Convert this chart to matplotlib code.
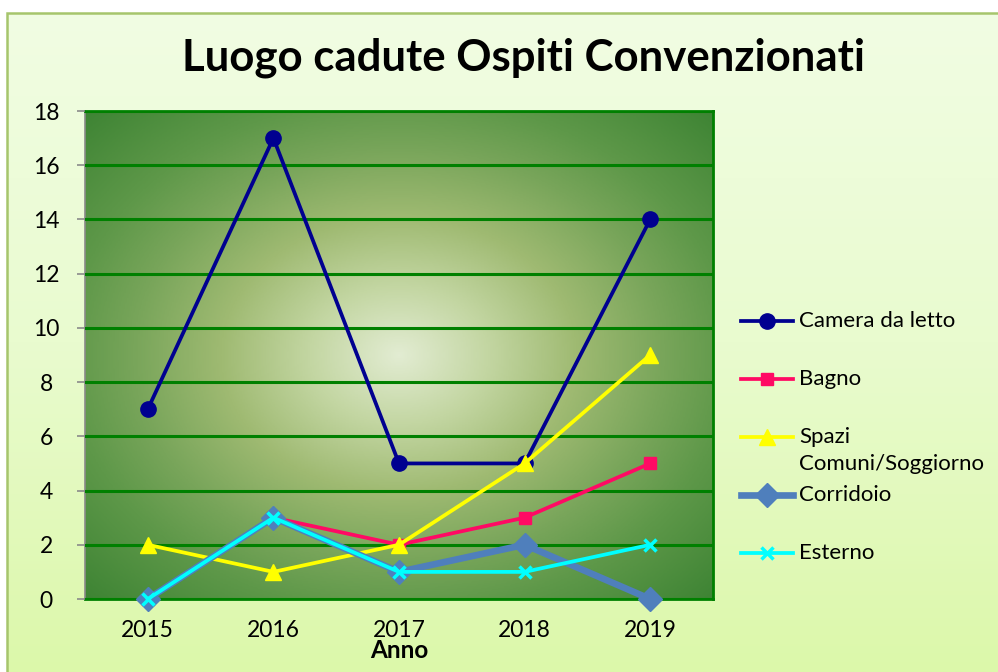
import numpy as np
import matplotlib.pyplot as plt
from matplotlib.colors import LinearSegmentedColormap
from matplotlib.patches import Rectangle
from matplotlib.lines import Line2D

plt.rcParams['font.family'] = ['Lato', 'DejaVu Sans']

# data
anni = ['2015', '2016', '2017', '2018', '2019']
camera = [7, 17, 5, 5, 14]
bagno = [0, 3, 2, 3, 5]
spazi = [2, 1, 2, 5, 9]
corridoio = [0, 3, 1, 2, 0]
esterno = [0, 3, 1, 1, 2]

serie = [
    ('Camera da letto', camera, '#000090', 'o', 11, 3, 2.7),
    ('Bagno', bagno, '#ff0a64', 's', 9, 3, 2.7),
    ('Spazi\nComuni/Soggiorno', spazi, '#ffff00', '^', 11, 3, 2.7),
    ('Corridoio', corridoio, '#4f7fbc', 'D', 12, 4, 4.8),
    ('Esterno', esterno, '#00ffff', 'x', 9, 5, 2.7),
]

W, H = 998, 672
fig = plt.figure(figsize=(W / 100, H / 100), dpi=100)
fig.patch.set_facecolor('white')

# chart background (light green vertical gradient)
bg = fig.add_axes([7 / W, 0, 1 - 7 / W, 1 - 13 / H], zorder=-10)
bg_cmap = LinearSegmentedColormap.from_list('bg', ['#f1fde3', '#e9fbcf', '#dcf8aa'])
grad = np.linspace(0, 1, 256).reshape(-1, 1)
bg.imshow(grad, aspect='auto', cmap=bg_cmap, extent=[0, 1, 0, 1], origin='upper')
bg.set_axis_off()
fig.patches.append(Rectangle((7 / W, -0.01), 1, 1 - 13 / H + 0.01, transform=fig.transFigure,
                             fill=False, edgecolor='#a6c56c', linewidth=1.8, zorder=-5))

ax = fig.add_axes([85 / W, 1 - 599 / H, (713 - 85) / W, (599 - 111) / H])

# plot-area gradient from the centre
nx, ny = 400, 300
u = np.linspace(-1, 1, nx)[None, :]
v = np.linspace(-1, 1, ny)[:, None]
t = np.sqrt(u ** 2 + v ** 2) / np.sqrt(2)
pa_cmap = LinearSegmentedColormap.from_list(
    'pa', [(0, '#e2ecd2'), (0.2, '#c3d6a2'), (0.4, '#9fba72'), (0.6, '#78a55a'),
           (0.75, '#5e9849'), (1, '#3e8434')])
ax.imshow(t, aspect='auto', cmap=pa_cmap, vmin=0, vmax=1,
          extent=[-0.5, 4.5, 0, 18], origin='upper', zorder=0)

x = np.arange(len(anni))
for nome, vals, col, mk, ms, z, lw in serie:
    ax.plot(x, vals, color=col, linewidth=lw, marker=mk, markersize=ms,
            markeredgecolor=col, markerfacecolor=col,
            markeredgewidth=2.5 if mk == 'x' else 1, zorder=z, clip_on=False)

ax.set_xlim(-0.5, 4.5)
ax.set_ylim(0, 18)
ax.set_yticks(range(0, 19, 2))
ax.set_xticks(x)
ax.set_xticklabels(anni)
ax.grid(axis='y', color='#008000', linewidth=2.2, zorder=1)
ax.set_axisbelow(False)
for gl in ax.get_ygridlines():
    gl.set_zorder(1)

ax.spines['left'].set_color('#8a8a8a')
ax.spines['left'].set_linewidth(1.2)
for s in ['top', 'right', 'bottom']:
    ax.spines[s].set_color('#008000')
    ax.spines[s].set_linewidth(2)
ax.tick_params(axis='y', length=6, width=1.2, color='#8a8a8a', pad=22, labelsize=16.5)
ax.tick_params(axis='x', length=0, pad=15, labelsize=16.5)
for lab in ax.get_yticklabels():
    lab.set_horizontalalignment('center')

ax.set_xlabel('Anno', fontsize=17.5, fontweight='bold', labelpad=-1)

fig.text(524 / W, 1 - 58 / H, 'Luogo cadute Ospiti Convenzionati',
         ha='center', va='center', fontsize=31.5, fontweight='bold')

# legend
y0, step = 321, 58
for i, (nome, vals, col, mk, ms, z, lw) in enumerate(serie):
    yy = 1 - (y0 + i * step) / H
    fig.add_artist(Line2D([741 / W, 793 / W], [yy, yy], transform=fig.transFigure,
                          color=col, linewidth=lw))
    fig.add_artist(Line2D([767 / W], [yy], transform=fig.transFigure, color=col,
                          marker=mk, markersize=ms, markeredgecolor=col,
                          markeredgewidth=2.5 if mk == 'x' else 1))
    fig.text(799 / W, yy + 10 / H, nome, ha='left', va='top', fontsize=16, linespacing=1.45)

fig.savefig('out.png', dpi=100)
